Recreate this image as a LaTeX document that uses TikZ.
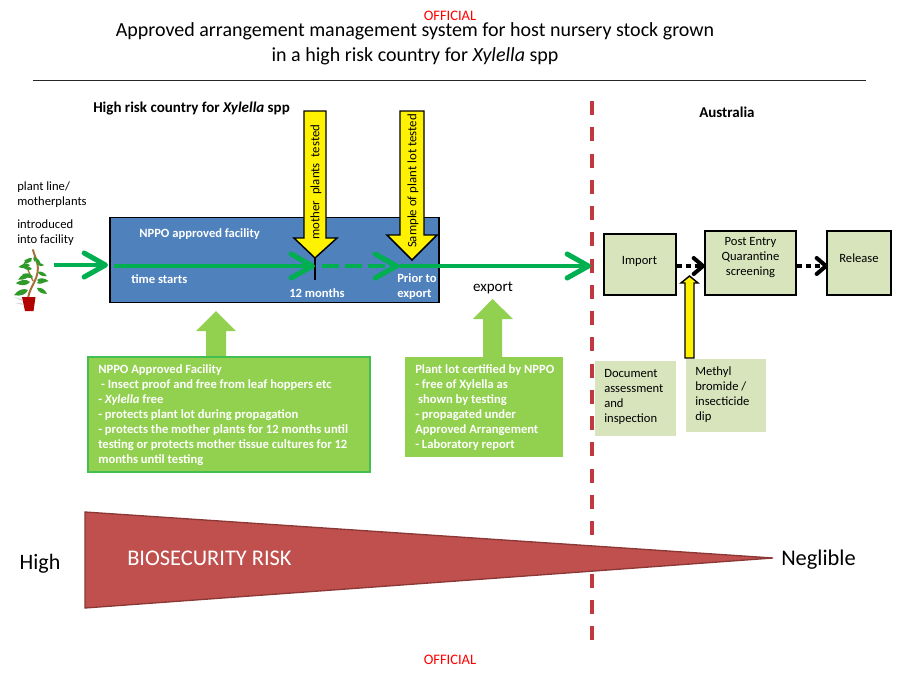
\documentclass[tikz,border=0pt]{standalone}
\usepackage{fontspec}
\setmainfont{Carlito}
\usetikzlibrary{arrows.meta}
% sizes are given in canvas units: 1 unit = 0.75pt
\newcommand{\fs}[2]{\fontsize{\the\dimexpr#1pt*3/4\relax}{\the\dimexpr#2pt*3/4\relax}\selectfont}
\definecolor{flowgreen}{HTML}{00B050}
\definecolor{notegreen}{HTML}{92D14F}
\definecolor{paleolive}{HTML}{D8E4BC}
\definecolor{facilityblue}{HTML}{4F81BD}
\definecolor{riskred}{HTML}{C0504D}
\definecolor{riskedge}{HTML}{8C3836}
\definecolor{borderred}{HTML}{C0393F}
\definecolor{officialred}{HTML}{FF0000}
\definecolor{leafgreen}{HTML}{2F9A2A}
\definecolor{stemcol}{HTML}{A5703A}
\tikzset{
  x=0.75pt,y=-0.75pt,
  flow/.style={draw=flowgreen,line width=3.6pt,-{Straight Barb[length=16pt,width=18pt,line width=3.8pt,round]}},
  flowdash/.style={flow,dash pattern=on 12.75pt off 4.5pt},
  hop/.style={draw=black,line width=3pt,dash pattern=on 4pt off 2.6pt,-{Straight Barb[length=7pt,width=12pt,line width=3pt,round]}},
  stagebox/.style={draw=black,line width=2pt,fill=paleolive,inner sep=0pt},
  stagetext/.style={inner sep=0pt,align=center,font=\fs{12.6}{15}},
  notebox/.style={fill=paleolive,inner sep=0pt},
  blockyellow/.style={draw=black,line width=1.1pt,fill=yellow},
  blockgreen/.style={fill=notegreen},
  whitetext/.style={text=white,font=\fs{12.6}{15}\bfseries,inner sep=0pt,align=left,anchor=west},
  darktext/.style={text=black,font=\fs{12.6}{15},inner sep=0pt,align=left,anchor=west},
  uptext/.style={text=black,font=\fs{12.8}{15},inner sep=0pt,rotate=90},
  leafshape/.pic={\fill[leafgreen] (0,0) .. controls (3,-3.2) and (8,-3.2) .. (13,0) .. controls (8,3.2) and (3,3.2) .. (0,0);},
}
\begin{document}
\begin{tikzpicture}
\useasboundingbox (0,0) rectangle (900,675);

% Title block
\node[text=officialred,font=\fs{14.5}{16},inner sep=0pt] (officialtop) at (450,16) {OFFICIAL};
\node[font=\fs{20}{25},align=center,inner sep=0pt] (title) at (415,44) {Approved arrangement management system for host nursery stock grown\\in a high risk country for \textit{Xylella} spp};
\coordinate (ruleL) at (33,80.5);
\coordinate (ruleR) at (866,80.5);
\draw[line width=0.9pt,black!85] (ruleL) -- (ruleR);

% Region headings and the border between them
\node[font=\fs{15}{16}\bfseries,inner sep=0pt,anchor=west] (hrc) at (93,109) {High risk country for \textit{Xylella} spp};
\node[font=\fs{15}{16}\bfseries,inner sep=0pt,anchor=west] (aus) at (699,112) {Australia};
\coordinate (borderT) at (592,101);
\coordinate (borderB) at (592,642);
\draw[borderred,line width=3pt,dash pattern=on 10.5pt off 9.2pt] (borderT) -- (borderB);

% Facility block
\node[draw=black,line width=1.4pt,fill=facilityblue,minimum width=246.75pt,minimum height=63.75pt,inner sep=0pt] (facility) at (274.5,260) {};
\node[whitetext] (facname) at (139,234) {NPPO approved facility};
\node[whitetext] (timestart) at (131,279) {time starts};
\node[whitetext] (months) at (289,293) {12 months};
\node[whitetext] (prior) at (397,287) {Prior to\\export};

% Yellow test arrows
\draw[blockyellow] (304,111) -- (326,111) -- (326,238) -- (337,238) -- (315,258) -- (294,238) -- (304,238) -- cycle;
\draw[blockyellow] (400,111) -- (424,111) -- (424,235) -- (437,235) -- (412,260) -- (387,235) -- (400,235) -- cycle;
\node[uptext] (mothertest) at (316,182) {mother\ \ plants\ \ tested};
\node[uptext] (sampletest) at (413,181) {Sample of plant lot tested};

% Plant in a pot
\fill[black!15] (14,297) -- (22,299) -- (22,301) -- cycle;
\fill[black!15] (15,303) -- (22,303) -- (23,305) -- cycle;
\draw[stemcol,line width=1.5pt,line cap=round] (28,298) .. controls (30,285) and (41,278) .. (37,262) .. controls (36,258) and (34,254) .. (33,250);
\draw[stemcol,line width=1pt] (33,281) -- (28,270);
\pic[rotate=200,scale=1.15] at (28,290) {leafshape};
\pic[rotate=185,scale=1.1] at (30,282) {leafshape};
\pic[rotate=205,scale=1] at (30,274) {leafshape};
\pic[rotate=165,scale=0.85] at (33,277) {leafshape};
\pic[rotate=190,scale=0.9] at (30,265) {leafshape};
\pic[rotate=170,scale=0.7] at (32,269) {leafshape};
\pic[rotate=215,scale=0.8] at (32,258) {leafshape};
\pic[rotate=175,scale=0.6] at (32,261) {leafshape};
\pic[rotate=330,scale=0.9] at (37,288) {leafshape};
\pic[rotate=-5,scale=0.9] at (37,280) {leafshape};
\pic[rotate=15,scale=0.7] at (37,283) {leafshape};
\pic[rotate=-25,scale=0.75] at (38,272) {leafshape};
\pic[rotate=-50,scale=0.7] at (35,258) {leafshape};
\pic[rotate=-10,scale=0.55] at (37,264) {leafshape};
\pic[rotate=-80,scale=0.5] at (34,256) {leafshape};
\fill[red!70!black] (22,297) -- (35.5,297) -- (33.5,311) -- (25,311) -- cycle;

% Intake labels
\node[darktext] (plantline) at (17,195) {plant line/\\motherplants};
\node[darktext] (introduced) at (17,233) {introduced\\into facility};

% Time line through the facility to the border
\coordinate (flowA) at (54,265);
\coordinate (flowB) at (108,265);
\coordinate (flowC) at (114,266);
\coordinate (flowD) at (315,266);
\coordinate (flowE) at (322,266);
\coordinate (flowF) at (399,266);
\coordinate (flowG) at (399,266);
\coordinate (flowH) at (591,266);
\draw[black,line width=2pt] (315,258) -- (315,280);
\draw[flow] (flowA) -- (flowB);
\draw[flow] (flowC) -- (flowD);
\draw[flowdash] (flowE) -- (flowF);
\draw[flow] (flowG) -- (flowH);

% Facility note with its arrow
\fill[blockgreen] (206,358) -- (206,331) -- (196,331) -- (216,311) -- (236,331) -- (226,331) -- (226,358) -- cycle;
\node[draw=flowgreen!55!notegreen,line width=0.8pt,fill=notegreen,minimum width=211.5pt,minimum height=86.25pt,inner sep=0pt] (facnote) at (229,414.5) {};
\node[whitetext] (facnotetext) at (98,415) {NPPO Approved Facility\\
\ - Insect proof and free from leaf hoppers etc\\
- \textit{Xylella} free\\
- protects plant lot during propagation\\
- protects the mother plants for 12 months until\\
testing or protects mother tissue cultures for 12\\
months until testing};

% Certification note with its arrow
\node[font=\fs{15}{16},inner sep=0pt] (exportlbl) at (493,288) {export};
\fill[blockgreen] (483,358) -- (483,319) -- (473,319) -- (492.5,299) -- (513,319) -- (502,319) -- (502,358) -- cycle;
\node[fill=notegreen,minimum width=118.5pt,minimum height=75pt,inner sep=0pt] (certnote) at (484,407) {};
\node[whitetext] (certnotetext) at (415,407.5) {Plant lot certified by NPPO\\
- free of Xylella as\\
\ shown by testing\\
- propagated under\\
Approved Arrangement\\
- Laboratory report};

% Import pathway
\node[stagebox,minimum width=54pt,minimum height=45.75pt] (import) at (640,264.5) {};
\node[stagebox,minimum width=68.25pt,minimum height=48pt] (peq) at (750.5,263) {};
\node[stagebox,minimum width=48pt,minimum height=48pt] (release) at (859,263) {};
\node[stagetext] (importtext) at (639.5,261) {Import};
\node[stagetext] (peqtext) at (750.5,258) {Post Entry\\Quarantine\\screening};
\node[stagetext] (releasetext) at (859,258) {Release};
\coordinate (hopA) at (677,266);
\coordinate (hopB) at (705,266);
\coordinate (hopC) at (797,266);
\coordinate (hopD) at (828,266);
\draw[hop] (hopA) -- (hopB);
\draw[hop] (hopC) -- (hopD);

% Treatment arrow and supporting notes
\draw[blockyellow] (685,358) -- (685,283) -- (681,283) -- (689.5,276) -- (698,283) -- (694,283) -- (694,358) -- cycle;
\node[notebox,minimum width=60.75pt,minimum height=56.25pt] (docbox) at (635.5,398.5) {};
\node[notebox,minimum width=60pt,minimum height=54.75pt] (mbbox) at (726,395.5) {};
\node[darktext] (doctext) at (604,397) {Document\\assessment\\and\\inspection};
\node[darktext] (mbtext) at (695,395) {Methyl\\bromide /\\insecticide\\dip};

% Risk wedge
\coordinate (wedgeA) at (85,512);
\coordinate (wedgeB) at (773,558);
\coordinate (wedgeC) at (85,608);
\draw[draw=riskedge,line width=1pt,fill=riskred] (wedgeA) -- (wedgeB) -- (wedgeC) -- cycle;
\node[text=white,font=\fs{22.4}{25},inner sep=0pt,anchor=west] (risklbl) at (127,558) {BIOSECURITY RISK};
\node[font=\fs{22}{24},inner sep=0pt] (high) at (40,563.5) {High};
\node[font=\fs{22.4}{24},inner sep=0pt,anchor=west] (negl) at (781,560) {Neglible};

\node[text=officialred,font=\fs{14.5}{16},inner sep=0pt] (officialbot) at (450,660) {OFFICIAL};
\end{tikzpicture}
\end{document}
